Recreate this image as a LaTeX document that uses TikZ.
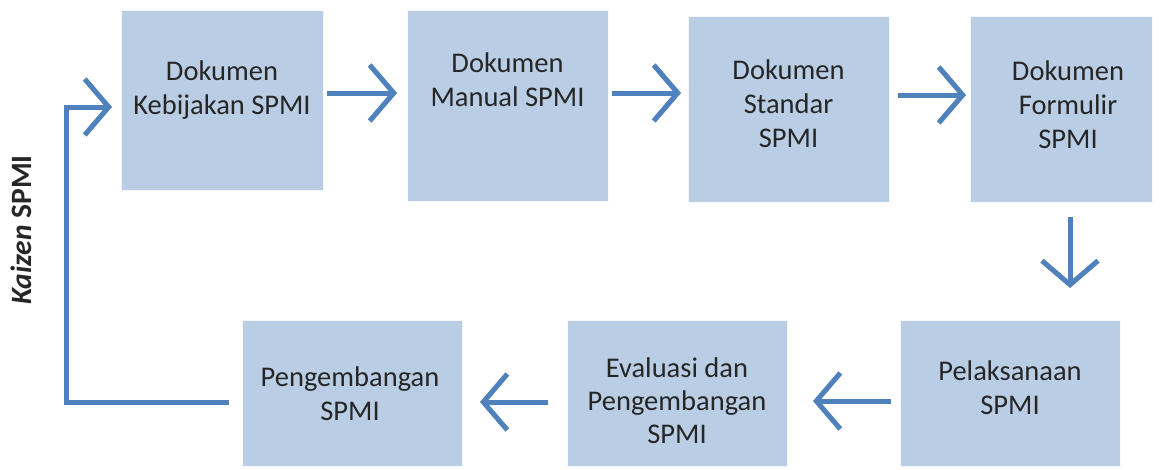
\documentclass[tikz,border=0pt]{standalone}
\usepackage{fontspec}
\setmainfont{Carlito}
\usetikzlibrary{arrows.meta}
\definecolor{boxfill}{HTML}{B9CDE4}
\definecolor{arrowblue}{HTML}{4F81BD}
\definecolor{txt}{HTML}{262626}
\tikzset{
  box/.style={draw=white!85!boxfill, line width=0.6pt, fill=boxfill, inner sep=0pt},
  lbl/.style={align=center, text=txt, font=\fontsize{28.5}{34}\selectfont},
  conn/.style={draw=arrowblue, line width=5pt,
     -{Straight Barb[length=24pt,width=56pt,line width=5pt]}},
  shadowline/.style={draw=black!18, line width=5pt, opacity=0.5,
     -{Straight Barb[length=24pt,width=56pt,line width=5pt]}}
}
\begin{document}
\begin{tikzpicture}[x=1pt,y=-1pt]
\useasboundingbox (0,0) rectangle (1163,469);
% boxes (x from left, y from top)
\node[box, minimum width=202pt, minimum height=180pt] (b1) at (222,100) {};
\node[box, minimum width=201pt, minimum height=191pt] (b2) at (507.5,105.5) {};
\node[box, minimum width=201pt, minimum height=186pt] (b3) at (788.5,109) {};
\node[box, minimum width=182pt, minimum height=186pt] (b4) at (1061,109) {};
\node[box, minimum width=220pt, minimum height=146pt] (b5) at (1010,393) {};
\node[box, minimum width=220pt, minimum height=146pt] (b6) at (677,393) {};
\node[box, minimum width=220pt, minimum height=146pt] (b7) at (352,393) {};
% texts
\node[lbl] (t1) at (222,90) {Dokumen\\Kebijakan SPMI};
\node[lbl] (t2) at (507.5,80) {Dokumen\\Manual SPMI};
\node[lbl] (t3) at (788.5,104) {Dokumen\\Standar\\SPMI};
\node[lbl] (t4) at (1068,105) {Dokumen\\Formulir\\SPMI};
\node[lbl] (t5) at (1010,388) {Pelaksanaan\\SPMI};
\node[lbl, font=\fontsize{28.5}{33}\selectfont] (t6) at (677,401) {Evaluasi dan\\Pengembangan\\SPMI};
\node[lbl] (t7) at (350,394) {Pengembangan\\SPMI};
\node[text=txt, font=\bfseries\fontsize{29.5}{32}\selectfont, rotate=90] (kz) at (21,230) {\textit{Kaizen} SPMI};
% connector end points
\coordinate (a1s) at (327,93);  \coordinate (a1e) at (397,93);
\coordinate (a2s) at (612,93);  \coordinate (a2e) at (681,93);
\coordinate (a3s) at (898,95);  \coordinate (a3e) at (966,95);
\coordinate (a4s) at (1070,217); \coordinate (a4e) at (1070,288);
\coordinate (a5s) at (891,401); \coordinate (a5e) at (813,401);
\coordinate (a6s) at (548,402); \coordinate (a6e) at (480,402);
\coordinate (a7s) at (229,402); \coordinate (a7c1) at (66,402);
\coordinate (a7c2) at (66,107); \coordinate (a7e) at (112,107);
% shadows
\begin{scope}[shift={(2,3)}]
\draw[shadowline] (a1s) -- (a1e);
\draw[shadowline] (a2s) -- (a2e);
\draw[shadowline] (a3s) -- (a3e);
\draw[shadowline] (a4s) -- (a4e);
\draw[shadowline] (a5s) -- (a5e);
\draw[shadowline] (a6s) -- (a6e);
\draw[shadowline] (a7s) -- (a7c1) -- (a7c2) -- (a7e);
\end{scope}
% connectors
\draw[conn] (a1s) -- (a1e);
\draw[conn] (a2s) -- (a2e);
\draw[conn] (a3s) -- (a3e);
\draw[conn] (a4s) -- (a4e);
\draw[conn] (a5s) -- (a5e);
\draw[conn] (a6s) -- (a6e);
\draw[conn] (a7s) -- (a7c1) -- (a7c2) -- (a7e);
\end{tikzpicture}
\end{document}
